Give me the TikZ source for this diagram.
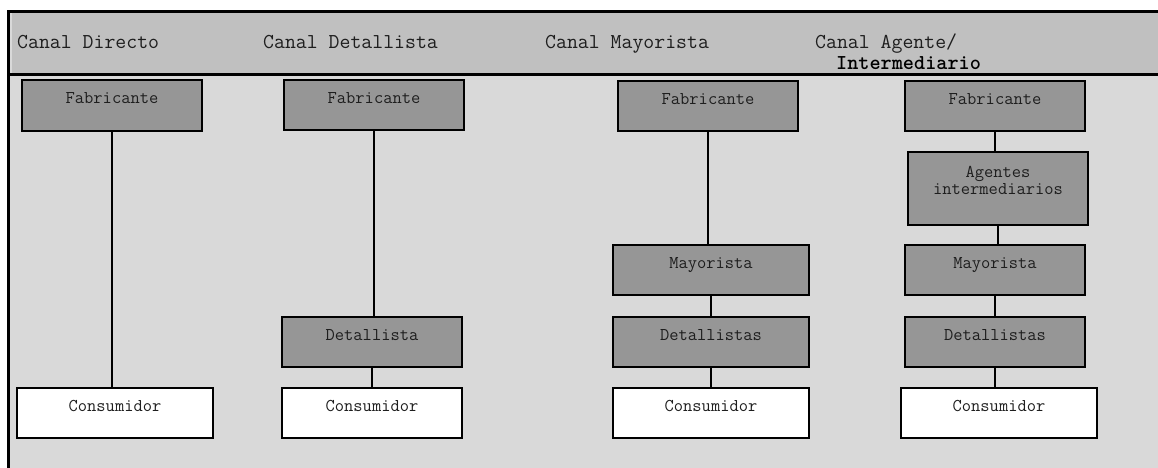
\documentclass[tikz,border=0pt]{standalone}
\usepackage{fontspec}
\usepackage{tikz}
\usetikzlibrary{positioning}
\newfontfamily\ttboldfont{lmmonolt10-bold.otf}
\definecolor{headgray}{RGB}{192,192,192}
\definecolor{bodygray}{RGB}{217,217,217}
\definecolor{boxgray}{RGB}{150,150,150}
\definecolor{inkgray}{RGB}{30,30,30}
\tikzset{box/.style = {draw, line width = 2, fill = boxgray, minimum width = 180,
                       inner sep = 0, text height = 23.5, text depth = 26.5,
                       text = inkgray, font = \ttfamily\fontsize{18}{16.7}\selectfont}}
\tikzset{endbox/.style = {box, fill = white, minimum width = 196}}
\tikzset{title/.style = {anchor = base west, inner sep = 0, text = inkgray,
                         font = \ttfamily\fontsize{21.2}{22}\selectfont}}
\tikzset{link/.style = {line width = 1.6}}

\begin{document}
\begin{tikzpicture}[x = 1pt, y = -1pt]
      \useasboundingbox (0, 0) rectangle (1158, 468);
      % frame and header band
      \fill [bodygray] (8, 12) rectangle (1158, 468);
      \fill [headgray] (12, 12) rectangle (1158, 75);
      \draw [line width = 3] (8, 468) -- (8, 12) -- (1158, 12);
      \draw [line width = 3] (8, 75) -- (1158, 75);

      \node [title] (t1) at (17, 49) {Canal Directo};
      \node [title] (t2) at (263, 49) {Canal Detallista};
      \node [title] (t3) at (545, 49) {Canal Mayorista};
      \node [title] (t4) at (815, 49) {Canal Agente/};
      \node [title, text = black, font = \ttboldfont\fontsize{21.2}{22}\selectfont] (t4b) at (836, 70) {Intermediario};

      % canal directo
      \node [box] (fab1) at (112, 105.5) {Fabricante};
      \node [endbox] (con1) at (115, 412.5) {Consumidor};
      \draw [link] (fab1.south) -- (fab1.south |- con1.north);

      % canal detallista
      \node [box] (fab2) at (374, 105) {Fabricante};
      \node [box] (det2) at (372, 341.5) {Detallista};
      \node [endbox, minimum width = 180] (con2) at (372, 412.5) {Consumidor};
      \draw [link] (fab2.south) -- (fab2.south |- det2.north);
      \draw [link] (det2.south) -- (con2.north);

      % canal mayorista
      \node [box] (fab3) at (708, 106) {Fabricante};
      \node [box, minimum width = 196] (may3) at (711, 270) {Mayorista};
      \node [box, minimum width = 196] (det3) at (711, 341.5) {Detallistas};
      \node [endbox] (con3) at (711, 412.5) {Consumidor};
      \draw [link] (fab3.south) -- (fab3.south |- may3.north);
      \draw [link] (may3) -- (det3);
      \draw [link] (det3) -- (con3);

      % canal agente / intermediario
      \node [box] (fab4) at (995, 106) {Fabricante};
      \node [box, text width = 180, align = center, text height = 25.5, text depth = 47.5] (age4) at (998, 188.5) {Agentes\\intermediarios};
      \node [box] (may4) at (995, 270) {Mayorista};
      \node [box] (det4) at (995, 341.5) {Detallistas};
      \node [endbox] (con4) at (999, 412.5) {Consumidor};
      \draw [link] (fab4.south) -- (fab4.south |- age4.north);
      \draw [link] (age4.south) -- (age4.south |- may4.north);
      \draw [link] (may4) -- (det4);
      \draw [link] (det4.south) -- (det4.south |- con4.north);
    \end{tikzpicture}
\end{document}
